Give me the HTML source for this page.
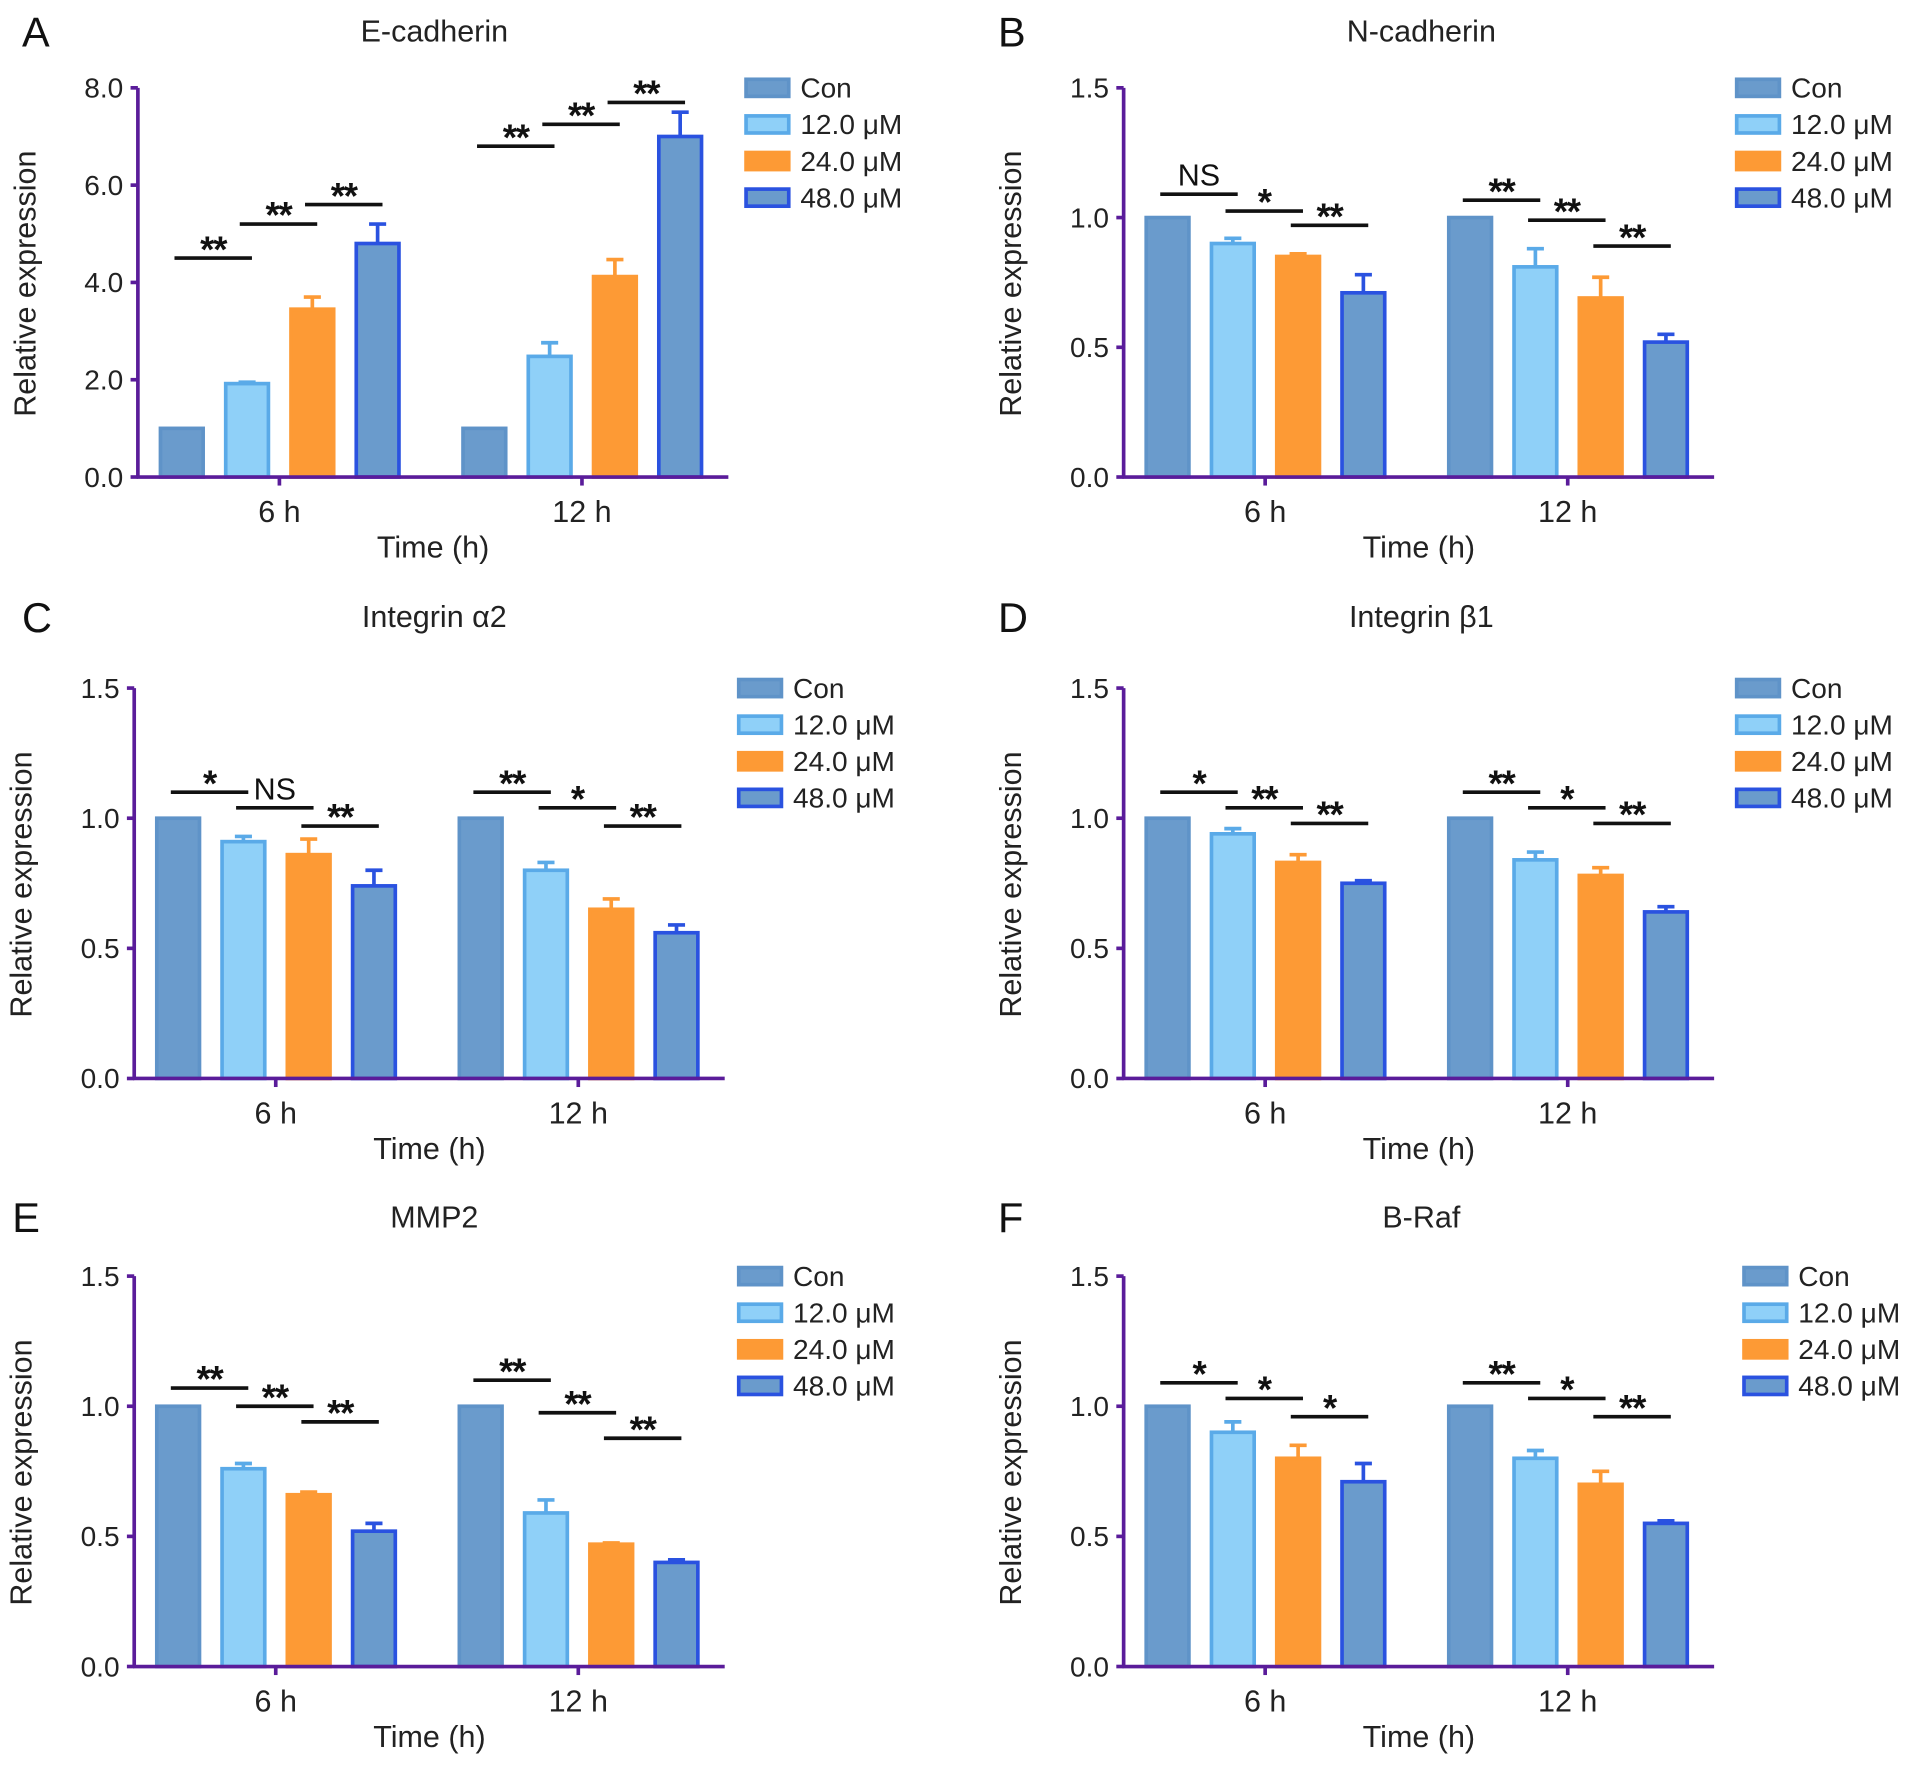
<!DOCTYPE html>
<html><head><meta charset="utf-8"><style>
html,body{margin:0;padding:0;background:#fff;}
svg{display:block;font-family:"Liberation Sans Narrow","Liberation Sans",sans-serif;}
</style></head><body>
<svg id="fig" width="1913" height="1769" viewBox="0 0 1568 1450" xmlns="http://www.w3.org/2000/svg"></svg>
<script>
// ---- data ----
const groups = ["6 h", "12 h"];
const seriesNames = ["Con", "12.0 \u03bcM", "24.0 \u03bcM", "48.0 \u03bcM"];
const titles = ["E-cadherin", "N-cadherin", "Integrin \u03b12", "Integrin \u03b21", "MMP2", "B-Raf"];
const letters = ["A", "B", "C", "D", "E", "F"];
const yTicksA = [0, 2, 4, 6, 8];
const yTickLabelsA = ["0.0", "2.0", "4.0", "6.0", "8.0"];
const yTicksB = [0, 0.5, 1.0, 1.5];
const yTickLabelsB = ["0.0", "0.5", "1.0", "1.5"];
const valA = [[1.0, 1.92, 3.45, 4.8], [1.0, 2.48, 4.12, 7.0]];
const errA = [[0, 0.03, 0.25, 0.4], [0, 0.28, 0.35, 0.5]];
const sigA = [[4.5, 5.2, 5.6], [6.8, 7.25, 7.7]];
const sigLabA = [["**", "**", "**"], ["**", "**", "**"]];
const valB = [[1.0, 0.90, 0.85, 0.71], [1.0, 0.81, 0.69, 0.52]];
const errB = [[0, 0.02, 0.01, 0.07], [0, 0.07, 0.08, 0.03]];
const sigB = [[1.09, 1.025, 0.97], [1.067, 0.99, 0.89]];
const sigLabB = [["NS", "*", "**"], ["**", "**", "**"]];
const valC = [[1.0, 0.91, 0.86, 0.74], [1.0, 0.80, 0.65, 0.56]];
const errC = [[0, 0.02, 0.06, 0.06], [0, 0.03, 0.04, 0.03]];
const sigC = [[1.10, 1.04, 0.97], [1.10, 1.04, 0.97]];
const sigLabC = [["*", "NS", "**"], ["**", "*", "**"]];
const valD = [[1.0, 0.94, 0.83, 0.75], [1.0, 0.84, 0.78, 0.64]];
const errD = [[0, 0.02, 0.03, 0.01], [0, 0.03, 0.03, 0.02]];
const sigD = [[1.10, 1.04, 0.98], [1.10, 1.04, 0.98]];
const sigLabD = [["*", "**", "**"], ["**", "*", "**"]];
const valE = [[1.0, 0.76, 0.66, 0.52], [1.0, 0.59, 0.47, 0.40]];
const errE = [[0, 0.02, 0.01, 0.03], [0, 0.05, 0.005, 0.01]];
const sigE = [[1.07, 1.0, 0.94], [1.10, 0.975, 0.877]];
const sigLabE = [["**", "**", "**"], ["**", "**", "**"]];
const valF = [[1.0, 0.90, 0.80, 0.71], [1.0, 0.80, 0.70, 0.55]];
const errF = [[0, 0.04, 0.05, 0.07], [0, 0.03, 0.05, 0.01]];
const sigF = [[1.09, 1.03, 0.96], [1.09, 1.03, 0.96]];
const sigLabF = [["*", "*", "*"], ["**", "*", "**"]];

const allVals = [valA, valB, valC, valD, valE, valF];
const allErrs = [errA, errB, errC, errD, errE, errF];
const allSig = [sigA, sigB, sigC, sigD, sigE, sigF];
const allSigLab = [sigLabA, sigLabB, sigLabC, sigLabD, sigLabE, sigLabF];

// ---- styling / layout ----
const fills = ["#6a9bcc", "#8fd0f8", "#fd9a35", "#6a9bcc"];
const strokes = ["#5f93c8", "#5aaae8", "#fd9a35", "#2a52e0"];
const AX = "#5a1c9a";
const layout = [
  {ax: 113, top: 72, bot: 391, legX: 610, title: 356, letX: 18, rowY: 25},
  {ax: 921, top: 72, bot: 391, legX: 1422, title: 1165, letX: 818, rowY: 25},
  {ax: 110, top: 564, bot: 884, legX: 604, title: 356, letX: 18, rowY: 505},
  {ax: 921, top: 564, bot: 884, legX: 1422, title: 1165, letX: 818, rowY: 505},
  {ax: 110, top: 1046, bot: 1366, legX: 604, title: 356, letX: 10, rowY: 997},
  {ax: 921, top: 1046, bot: 1366, legX: 1428, title: 1165, letX: 818, rowY: 997}
];
const NS = "http://www.w3.org/2000/svg";
const svg = document.getElementById("fig");
function mk(tag, attrs, parent, text) {
  const e = document.createElementNS(NS, tag);
  for (const k in attrs) e.setAttribute(k, attrs[k]);
  if (text !== undefined) e.textContent = text;
  parent.appendChild(e);
  return e;
}

for (let p = 0; p < 6; p++) {
  const L = layout[p];
  const ticks = p === 0 ? yTicksA : yTicksB;
  const tickLabs = p === 0 ? yTickLabelsA : yTickLabelsB;
  const yMax = ticks[ticks.length - 1];
  const y = v => L.bot - (v / yMax) * (L.bot - L.top);
  const axEnd = L.ax + 484;
  const groupCenter = g => L.ax + 116 + g * 248;
  const barX = (g, s) => groupCenter(g) - 99 + s * 53.5;
  const bw = 38;

  const g = mk("g", {}, svg);
  
  

  const let_ = mk("text", {x: L.letX, y: L.rowY + 13, "font-size": 34, fill: "#111"}, g, letters[p]);
  
  
  const tt = mk("text", {x: L.title, y: L.rowY + 9, "font-size": 25, "text-anchor": "middle", fill: "#222"}, g, titles[p]);
  
  

  for (let gi = 0; gi < groups.length; gi++) {
    for (let s = 0; s < 4; s++) {
      const v = allVals[p][gi][s], e = allErrs[p][gi][s];
      const x = barX(gi, s);
      const bx = x + 1.5, bwid = bw - 3;
      if (e > 0) {
        const ln = mk("line", {x1: x + bw / 2, x2: x + bw / 2, y1: y(v), y2: y(v + e), stroke: strokes[s], "stroke-width": 3}, g);
        
        
        const cap = mk("line", {x1: x + bw / 2 - 7, x2: x + bw / 2 + 7, y1: y(v + e), y2: y(v + e), stroke: strokes[s], "stroke-width": 3}, g);
        
        
      }
      const r = mk("rect", {x: bx, y: y(v), width: bwid, height: y(0) - y(v), fill: fills[s], stroke: strokes[s], "stroke-width": 3}, g);
      
      
    }
    for (let k = 0; k < 3; k++) {
      const sv = allSig[p][gi][k];
      const x1 = barX(gi, k) + 13, x2 = barX(gi, k + 1) + 23;
      const sl = mk("line", {x1: x1, x2: x2, y1: y(sv), y2: y(sv), stroke: "#111", "stroke-width": 3}, g);
      
      
      const lab = allSigLab[p][gi][k];
      const isNS = lab === "NS";
      const st = mk("text", {x: (x1 + x2) / 2, y: isNS ? y(sv) - 7 : y(sv) + 3, "font-size": isNS ? 25 : 30, "font-weight": isNS ? "normal" : "bold", "letter-spacing": isNS ? 0 : -1, "text-anchor": "middle", fill: "#111"}, g, lab);
      
      
    }
  }

  const ya = mk("line", {x1: L.ax, x2: L.ax, y1: L.top, y2: L.bot, stroke: AX, "stroke-width": 3}, g);
  
  
  const xa = mk("line", {x1: L.ax - 1, x2: axEnd, y1: L.bot, y2: L.bot, stroke: AX, "stroke-width": 3}, g);
  
  
  for (let i = 0; i < ticks.length; i++) {
    const ty = y(ticks[i]);
    const tk = mk("line", {x1: L.ax - 6, x2: L.ax, y1: ty, y2: ty, stroke: AX, "stroke-width": 3}, g);
    
    
    const tl = mk("text", {x: L.ax - 12, y: ty + 8, "font-size": 23, "text-anchor": "end", fill: "#222"}, g, tickLabs[i]);
    
    
  }
  for (let gi = 0; gi < groups.length; gi++) {
    const cx = groupCenter(gi);
    const tk = mk("line", {x1: cx, x2: cx, y1: L.bot, y2: L.bot + 7, stroke: AX, "stroke-width": 3}, g);
    
    
    const tl = mk("text", {x: cx, y: L.bot + 37, "font-size": 25, "text-anchor": "middle", fill: "#222"}, g, groups[gi]);
    
    
  }
  const xt = mk("text", {x: L.ax + 242, y: L.bot + 66, "font-size": 25, "text-anchor": "middle", fill: "#222"}, g, "Time (h)");
  
  
  const yx = L.ax - 84, yc = (L.top + L.bot) / 2 + 1;
  const yt = mk("text", {x: yx, y: yc, "font-size": 25, "text-anchor": "middle", fill: "#222", transform: "rotate(-90 " + yx + " " + yc + ")"}, g, "Relative expression");
  
  

  for (let s = 0; s < 4; s++) {
    const ly = L.top + s * 30;
    const sw = mk("rect", {x: L.legX + 1.5, y: ly - 7, width: 35, height: 14, fill: fills[s], stroke: strokes[s], "stroke-width": 3}, g);
    
    
    const lt = mk("text", {x: L.legX + 46, y: ly + 8, "font-size": 23, fill: "#222"}, g, seriesNames[s]);
    
    
  }
}
</script>
</body></html>
